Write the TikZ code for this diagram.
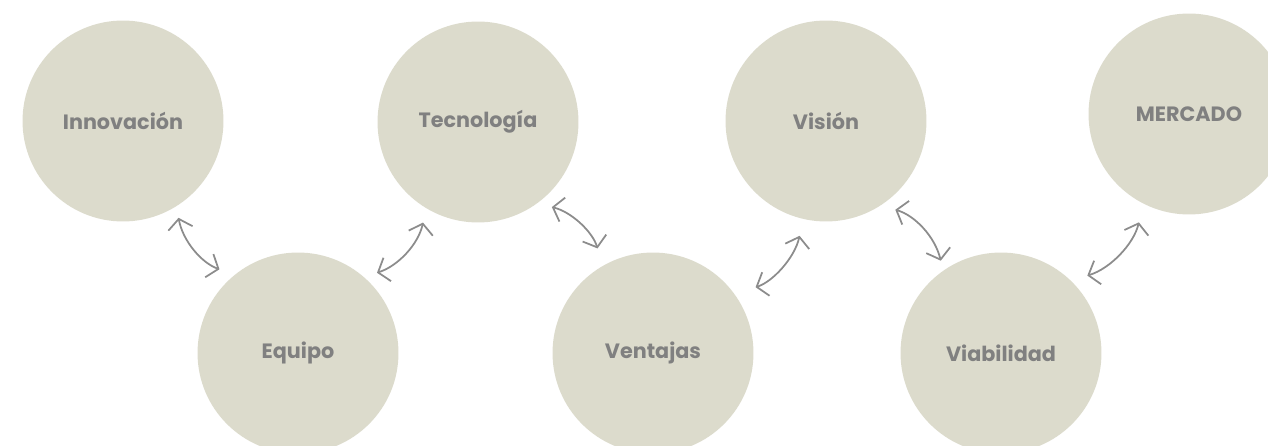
\documentclass[tikz,border=0pt]{standalone}
\usepackage{fontspec}
\setmainfont{Poppins}
\usetikzlibrary{arrows.meta}
\definecolor{bubblebeige}{RGB}{220,219,204}
\definecolor{labelgrey}{RGB}{128,128,128}
\definecolor{arrowgrey}{RGB}{140,140,140}

\begin{document}
\begin{tikzpicture}[x=0.02cm, y=-0.02cm,
    bubble/.style={circle, fill=bubblebeige, minimum size=4.02cm, inner sep=0pt,
      text=labelgrey, font=\bfseries\fontsize{11.8}{14}\selectfont},
    link/.style={{Straight Barb[length=5.5pt,width=14pt]}-{Straight Barb[length=5.5pt,width=14pt]},
      draw=arrowgrey, line width=1pt}]
  \useasboundingbox (0,0) rectangle (1268,446);

  % circles in a zig-zag row
  \node[bubble] (innovacion) at (123,121) {Innovación};
  \node[bubble] (equipo) at (298,353) {Equipo};
  \node[bubble] (tecnologia) at (478,122) {Tecnología};
  \node[bubble] (ventajas) at (653,353) {Ventajas};
  \node[bubble] (vision) at (826,121) {Visión};
  \node[bubble] (viabilidad) at (1001,353) {Viabilidad};
  \node[bubble] (mercado) at (1189,114) {MERCADO};

  % curved double arrows in the gaps
  \draw[link, shorten <=0.23cm, shorten >=0.32cm] (innovacion.-58) to[bend right=30] (equipo.129);
  \draw[link, shorten <=0.27cm, shorten >=0.29cm] (equipo.49) to[bend right=30] (tecnologia.-121);
  \draw[link, shorten <=0.30cm, shorten >=0.36cm] (tecnologia.-54) to[bend left=30] (ventajas.120);
  \draw[link, shorten <=0.44cm, shorten >=0.34cm] (ventajas.36) to[bend right=30] (vision.-103);
  \draw[link, shorten <=0.30cm, shorten >=0.20cm] (vision.-57) to[bend left=30] (viabilidad.125);
  \draw[link, shorten <=0.34cm, shorten >=0.38cm] (viabilidad.46) to[bend right=30] (mercado.-117);
\end{tikzpicture}
\end{document}
